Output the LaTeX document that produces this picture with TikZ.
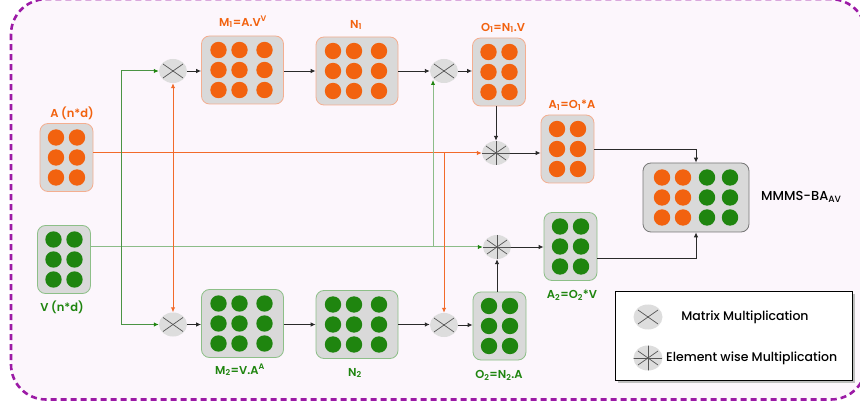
\documentclass[tikz,border=0pt]{standalone}
\usepackage{fontspec}
\setmainfont{Poppins}[BoldFont={Poppins SemiBold}]
\newfontfamily\pmed{Poppins Medium}
\usetikzlibrary{shapes.geometric,arrows.meta}
\definecolor{orng}{HTML}{F2620F}
\definecolor{grn}{HTML}{1F850F}
\definecolor{oborder}{HTML}{F4AE90}
\definecolor{gborder}{HTML}{8DBF88}
\definecolor{boxfill}{HTML}{D9D9D9}
\definecolor{multfill}{HTML}{DDDDDD}
\definecolor{bgc}{HTML}{FCF6FC}
\definecolor{purp}{HTML}{9C1AA6}
\definecolor{oline}{HTML}{F26A2A}
\definecolor{glight}{HTML}{8CBC88}
\definecolor{gdark}{HTML}{4A9444}
\definecolor{arrc}{HTML}{2A2A2A}
\definecolor{xline}{HTML}{555555}
\newcommand\mydotgrid[3]{%
  \foreach \dx in {#3} \foreach \dy in {-20,0,20}
    \fill[#2] ([shift={(\dx,\dy)}]#1.center) circle (8.2);}
\begin{document}
\begin{tikzpicture}[x=1pt,y=-1pt,
  box/.style={rectangle, rounded corners=8pt, fill=boxfill, line width=0.8pt, inner sep=0pt},
  obox/.style={box, draw=oborder},
  gbox/.style={box, draw=gborder},
  smallbox/.style={minimum width=53pt, minimum height=68pt},
  bigbox/.style={minimum width=82pt, minimum height=68pt},
  lab/.style={font=\bfseries\fontsize{11.5}{13}\selectfont, inner sep=0pt},
  olab/.style={lab, text=orng},
  glab/.style={lab, text=grn},
  mult/.style={ellipse, fill=multfill, minimum width=28pt, minimum height=24pt, inner sep=0pt,
    path picture={
      \draw[xline, line width=0.7pt] ([shift={(-10,-7)}]path picture bounding box.center) -- ([shift={(10,7)}]path picture bounding box.center);
      \draw[xline, line width=0.7pt] ([shift={(-10,7)}]path picture bounding box.center) -- ([shift={(10,-7)}]path picture bounding box.center);
    }},
  spokes/.style={path picture={
      \draw[xline, line width=0.7pt] ([shift={(-10,-7)}]path picture bounding box.center) -- ([shift={(10,7)}]path picture bounding box.center);
      \draw[xline, line width=0.7pt] ([shift={(-10,7)}]path picture bounding box.center) -- ([shift={(10,-7)}]path picture bounding box.center);
      \draw[xline, line width=0.7pt] ([shift={(-15,0)}]path picture bounding box.center) -- ([shift={(15,0)}]path picture bounding box.center);
      \draw[xline, line width=0.7pt] ([shift={(0,-13)}]path picture bounding box.center) -- ([shift={(0,13)}]path picture bounding box.center);
    }},
  legmult/.style={minimum width=29pt, minimum height=25pt},
  tip/.style={-{Latex[length=5pt,width=4.5pt]}},
  arr/.style={tip, line width=0.9pt, draw=arrc},
  oarr/.style={tip, line width=1pt, draw=oline},
  garr/.style={line width=1pt, draw=glight, -{Latex[length=5pt,width=4.5pt,color=grn]}},
  gdarr/.style={line width=1pt, draw=gdark, -{Latex[length=5pt,width=4.5pt,color=grn]}},
  legtxt/.style={font=\pmed\fontsize{12.5}{14}\selectfont, inner sep=0pt},
]
\useasboundingbox (0,0) rectangle (860,406);
\fill[white] (0,0) rectangle (860,406);
\draw[purp, line width=2.6pt, dash pattern=on 6pt off 4pt, fill=bgc, rounded corners=35pt] (11,-0.8) rectangle (866,399.5);

% boxes
\node[obox, smallbox] (A) at (66.5,157.5) {};
\node[gbox, smallbox] (V) at (64,259.5) {};
\node[obox, bigbox] (M1) at (242.5,70) {};
\node[obox, bigbox] (N1) at (357,71) {};
\node[obox, smallbox] (O1) at (499,72) {};
\node[obox, smallbox] (A1) at (567.5,149) {};
\node[gbox, smallbox] (A2) at (570.5,246.5) {};
\node[gbox, smallbox] (O2) at (499.5,326) {};
\node[gbox, bigbox] (N2) at (357,324.5) {};
\node[gbox, bigbox] (M2) at (242.5,323.5) {};
\node[box, draw=xline!80, line width=0.8pt, minimum width=106pt, minimum height=69pt] (MM) at (696,197.5) {};

\mydotgrid{A}{orng}{-10.5,10.5}
\mydotgrid{V}{grn}{-10.5,10.5}
\mydotgrid{M1}{orng}{-24,-3,22}
\mydotgrid{N1}{orng}{-24,-3,22}
\mydotgrid{O1}{orng}{-10.5,10.5}
\mydotgrid{A1}{orng}{-10.5,10.5}
\mydotgrid{A2}{grn}{-10.5,10.5}
\mydotgrid{O2}{grn}{-10.5,10.5}
\mydotgrid{N2}{grn}{-24,-3,22}
\mydotgrid{M2}{grn}{-24,-3,22}
\mydotgrid{MM}{orng}{-34,-13}
\mydotgrid{MM}{grn}{11,34}

% labels
\node[olab] (Al) at (72,113) {A (n*d)};
\node[glab] (Vl) at (62,307) {V (n*d)};
\node[olab] (M1l) at (243,22) {M\textsubscript{1}=A.V\textsuperscript{V}};
\node[olab] (N1l) at (356,25) {N\textsubscript{1}};
\node[olab] (O1l) at (503,28) {O\textsubscript{1}=N\textsubscript{1}.V};
\node[olab] (A1l) at (572,105) {A\textsubscript{1}=O\textsubscript{1}*A};
\node[glab] (A2l) at (572,295) {A\textsubscript{2}=O\textsubscript{2}*V};
\node[glab] (M2l) at (240,370) {M\textsubscript{2}=V.A\textsuperscript{A}};
\node[glab] (N2l) at (355,373) {N\textsubscript{2}};
\node[glab] (O2l) at (499,375) {O\textsubscript{2}=N\textsubscript{2}.A};
\node[legtxt, font=\pmed\fontsize{13}{15}\selectfont, anchor=west] (MMl) at (761,197) {MMMS-BA\textsubscript{AV}};

% multiplication nodes
\node[mult] (X1) at (173,71) {};
\node[mult] (X2) at (444,71) {};
\node[mult] (X3) at (173,324.5) {};
\node[mult] (X4) at (444,325) {};
\node[mult, spokes] (E1) at (496,153) {};
\node[mult, spokes] (E2) at (497,247) {};

% legend
\fill[black!25] (617.5,294.5) rectangle (854.5,382.5);
\node[draw=black, fill=white, line width=1pt, minimum width=237pt, minimum height=88pt, inner sep=0pt] (leg) at (733.5,336) {};
\node[mult, legmult] (LX) at (648,317) {};
\node[mult, spokes, legmult] (LE) at (648,358) {};
\node[legtxt] (LXt) at (745,317) {Matrix Multiplication};
\node[legtxt, anchor=west] (LEt) at (666,358) {Element wise Multiplication};

% coordinates
\coordinate (gs) at (121,247);
\coordinate (os) at (173,153);
\coordinate (g2) at (433,247);
\coordinate (g2top) at (433,80);
\coordinate (o2) at (444,153);

% main inputs
\draw[oarr] (A.east |- E1.west) -- (E1.west);
\draw[garr] (V.east |- E2.west) -- (E2.west);
\draw[gdarr] (gs) |- (X1.west);
\draw[gdarr] (gs) |- (X3.west);
\draw[oarr] (os) -- (X1.south);
\draw[oarr] (os) -- (os |- X3.north);
\draw[garr] (g2) -- (g2top);
\draw[oarr] (o2) -- (X4.north);

% black flow
\draw[arr] (X1.east) -- (X1.east -| M1.west);
\draw[arr] (M1.east |- N1.west) -- (N1.west);
\draw[arr] (N1.east) -- (N1.east -| X2.west);
\draw[arr] (X2.east) -- (X2.east -| O1.west);
\draw[arr] (O1.south -| E1.north) -- (E1.north);
\draw[arr] (E1.east) -- (E1.east -| A1.west);
\draw[arr] (X3.east) -- (X3.east -| M2.west);
\draw[arr] (M2.east |- N2.west) -- (N2.west);
\draw[arr] (N2.east) -- (N2.east -| X4.west);
\draw[arr] (X4.east) -- (X4.east -| O2.west);
\draw[arr] (O2.north -| E2.south) -- (E2.south);
\draw[arr] (E2.east) -- (E2.east -| A2.west);
\draw[arr] (A1.east) -| (MM.north);
\draw[arr] ([yshift=-12pt]A2.east) -| (MM.south);
\end{tikzpicture}
\end{document}
